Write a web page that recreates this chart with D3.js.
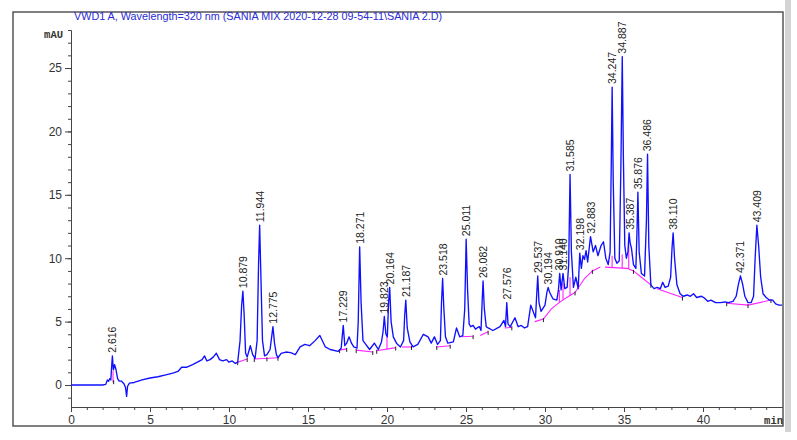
<!DOCTYPE html>
<html><head><meta charset="utf-8">
<script src="https://cdn.jsdelivr.net/npm/d3@7"></script>
<style>
body{margin:0;background:#fff;}
svg{display:block;font-family:"Liberation Sans",Arial,sans-serif;}
</style></head>
<body>
<svg id="c" width="797" height="440"></svg>
<script>
const titleText = "VWD1 A, Wavelength=320 nm (SANIA MIX 2020-12-28 09-54-11\\SANIA 2.D)";
const yUnit = "mAU";
const xUnit = "min";
const xMajorTicks = [0,5,10,15,20,25,30,35,40];
const yMajorTicks = [0,5,10,15,20,25];

// chromatogram trace: time (min) and signal (mAU)
const times = [0,1,2,2.2,2.3,2.38,2.45,2.52,2.58,2.62,2.68,2.76,2.85,2.95,3.05,3.2,3.35,3.45,3.52,3.58,3.7,4,4.5,5,5.5,6,6.5,6.8,7,7.3,7.7,8,8.3,8.45,8.6,8.8,9,9.2,9.4,9.6,9.85,10,10.2,10.4,10.55,10.7,10.8,10.88,10.96,11.05,11.15,11.35,11.5,11.65,11.78,11.87,11.94,12.02,12.12,12.25,12.4,12.6,12.7,12.78,12.88,13,13.1,13.3,13.6,13.9,14.2,14.5,14.8,15.1,15.45,15.75,16.1,16.4,16.9,17.1,17.23,17.33,17.45,17.6,17.75,17.9,18.1,18.18,18.27,18.36,18.48,18.6,18.9,19.2,19.45,19.65,19.75,19.83,19.93,20.02,20.1,20.17,20.26,20.4,20.6,20.85,21.05,21.12,21.19,21.28,21.45,21.65,21.95,22.3,22.6,22.8,23,23.2,23.38,23.45,23.52,23.6,23.7,23.85,24.2,24.4,24.6,24.8,24.92,25.01,25.1,25.2,25.3,25.45,25.6,25.7,25.85,25.95,26.02,26.08,26.16,26.28,26.4,26.7,27.15,27.4,27.5,27.58,27.66,27.8,28.1,28.3,28.5,28.7,28.9,29.1,29.25,29.4,29.47,29.54,29.62,29.75,30,30.12,30.2,30.3,30.5,30.75,30.85,30.93,31.02,31.14,31.25,31.4,31.5,31.585,31.67,31.8,31.95,32.1,32.2,32.3,32.4,32.5,32.6,32.7,32.88,33.05,33.2,33.35,33.55,33.7,33.85,34,34.12,34.2,34.25,34.32,34.42,34.55,34.7,34.8,34.89,34.96,35.05,35.15,35.25,35.32,35.39,35.47,35.6,35.75,35.82,35.88,35.96,36.1,36.3,36.42,36.49,36.57,36.7,36.9,37.1,37.3,37.45,37.6,37.8,37.95,38.04,38.11,38.2,38.35,38.55,38.75,39,39.2,39.4,39.6,39.9,40.1,40.3,40.5,40.8,41.1,41.4,41.6,41.9,42.1,42.25,42.37,42.5,42.65,42.85,43.05,43.2,43.3,43.41,43.52,43.65,43.8,44,44.2,44.4,44.6,44.8,45];
const signal = [0,0,0,0.05,0.4,0.3,0.5,0.4,1.6,2.3,1.2,1.6,1.2,0.5,0.3,0.3,0.1,-0.2,-0.9,-0.1,0.15,0.2,0.4,0.55,0.65,0.8,0.95,1.1,1.4,1.4,1.6,1.8,2,2.3,1.9,2,2.2,2.5,2,1.9,2,1.8,1.9,1.7,1.8,3.5,6.3,7.4,5.5,2.5,2.2,3.1,2.4,2.1,3.5,9.5,12.6,8.5,3.5,2.3,2.4,2.8,3.8,4.6,3.3,2.4,2.15,2.5,2.6,2.55,2.4,3,3.2,3.1,3.5,3.9,3,2.8,2.65,2.9,4.7,3.1,3.3,3.8,3.3,3,2.9,5,10.9,6.5,3.5,3.3,2.8,3.3,2.8,3.4,4.2,5.4,4,3.8,6.5,7.7,5,3.8,3.3,3,3.5,5.5,6.7,4.5,3.4,3,3.2,4,3.8,3.3,3.8,3.2,3.5,6.5,8.4,6,3.8,3.3,3.4,4.5,3.8,3.9,6,11.5,7.5,4.8,4.6,4.7,4.4,4.5,4.6,4.3,6.5,8.2,6,4.6,4.5,4.3,4.6,5.1,4.6,6.5,4.8,4.6,5.3,4.6,4.7,4.5,4.6,6.3,5.8,5.3,7,8.6,6.5,5.8,6.3,7.3,7.7,7.3,6.8,6.7,7.5,8.8,7.5,8.8,7.6,7.7,9.5,16.6,10.5,7.7,8.5,7.6,10.4,9.2,10.2,9.9,10.6,9.7,11.7,10.5,11,10.2,11,11.3,10,9.5,10.5,18,23.5,16,10,9.6,9.8,17,25.9,18,11,10,10.5,12,11.2,10.8,9.5,9.2,12,15.2,10.5,8.8,8.6,13,18.2,11,7.9,7.6,7.7,7.6,8.1,7.7,7.8,8.5,10.8,12,10,7.9,7.2,7,7.1,7,7.2,6.9,7,6.85,6.6,6.7,6.5,6.5,6.55,6.5,6.6,7,8,8.6,8,7,6.5,6.5,7,10,12.6,11,8.5,7.2,6.9,6.7,6.7,6.4,6.3,6.3];

// labelled peaks
const peakTimes = ["2.616","10.879","11.944","12.775","17.229","18.271","19.823","20.164","21.187","23.518","25.011","26.082","27.576","29.537","30.194","30.910","31.140","31.585","32.198","32.883","34.247","34.887","35.387","35.876","36.486","38.110","42.371","43.409"];
const peakHeights = [2.3,7.4,12.6,4.6,4.7,10.9,5.4,7.7,6.7,8.4,11.5,8.2,6.5,8.6,7.7,8.8,8.8,16.6,10.4,11.7,23.5,25.9,12.0,15.2,18.2,12.0,8.6,12.6];

// integration baselines (magenta)
const baselineSegments = [
  [[2.66,0.2],[2.66,1.1]],
  [[10.55,1.8],[11.15,2.05]],
  [[11.6,2.05],[13.1,2.15]],
  [[17.0,2.75],[17.45,2.85]],
  [[18.05,2.75],[19.1,2.6]],
  [[19.35,2.7],[20.55,2.95]],
  [[20.0,2.8],[20.0,3.8]],
  [[20.95,3.0],[21.55,3.0]],
  [[23.15,3.0],[24.0,3.1]],
  [[24.75,3.8],[25.45,3.85]],
  [[25.9,3.9],[26.4,4.2]],
  [[27.45,4.5],[27.9,4.55]],
  [[29.35,5.0],[29.9,5.2],[30.4,6.0],[31.0,6.6],[31.5,7.0],[31.9,7.3]],
  [[30.91,6.55],[30.91,7.5]],
  [[31.14,6.75],[31.14,8.0]],
  [[31.585,7.05],[31.585,8.5]],
  [[31.9,7.3],[32.5,8.4],[33.0,9.0],[33.5,9.3]],
  [[33.8,9.3],[35.2,9.2],[35.6,9.0],[36.1,8.5],[36.7,7.9]],
  [[34.247,9.25],[34.247,10.2]],
  [[34.887,9.2],[34.887,10.3]],
  [[35.3,9.15],[35.3,11.5]],
  [[37.1,7.6],[38.0,7.2],[38.7,6.9]],
  [[41.5,6.45],[42.85,6.3],[44.3,6.7]]
];
const markerPoints = [[2.7,0.3],[10.55,1.8],[11.15,2.05],[11.6,2.05],[12.4,2.1],[13.1,2.15],[17.0,2.75],[17.45,2.85],[18.05,2.75],[19.1,2.6],[19.35,2.7],[20.55,2.95],[21.55,3.0],[23.15,3.0],[24.0,3.1],[25.45,3.85],[26.4,4.2],[27.9,4.55],[29.9,5.2],[31.9,7.3],[33.0,9.0],[35.6,9.0],[36.7,7.9],[38.7,6.9],[41.5,6.45],[42.85,6.3],[44.3,6.7]];

const svg = d3.select("#c");
const x = d3.scaleLinear().domain([0,45]).range([71,782]);
const y = d3.scaleLinear().domain([-1.735,28]).range([407,30]);

// frame
svg.append("rect").attr("x",785).attr("y",0).attr("width",6).attr("height",432).attr("fill","#d4d4d4");
svg.append("rect").attr("x",13).attr("y",12).attr("width",770).attr("height",414)
  .attr("fill","none").attr("stroke","#555").attr("stroke-width",1.5);

// title
svg.append("text").attr("x",74).attr("y",20).attr("font-size",10.8).attr("fill","#2b2bd6").text(titleText);

// axes
const axisColor = "#444";
function styleAxis(g){
  g.selectAll("path,line").attr("stroke",axisColor);
  g.selectAll("text").attr("fill","#333").attr("font-size",12).attr("font-family","Liberation Sans, Arial, sans-serif");
}
svg.append("g").attr("transform","translate(71,0)")
  .call(d3.axisLeft(y).tickValues(d3.range(-1,29)).tickSize(3).tickFormat("").tickSizeOuter(0))
  .call(styleAxis);
svg.append("g").attr("transform","translate(71,0)")
  .call(d3.axisLeft(y).tickValues(yMajorTicks).tickSize(6).tickPadding(3).tickSizeOuter(0))
  .call(styleAxis);
svg.append("g").attr("transform","translate(0,407)")
  .call(d3.axisBottom(x).tickValues(d3.range(0,45)).tickSize(3).tickFormat("").tickSizeOuter(0))
  .call(styleAxis);
svg.append("g").attr("transform","translate(0,407)")
  .call(d3.axisBottom(x).tickValues(xMajorTicks).tickSize(5).tickPadding(3).tickSizeOuter(0))
  .call(styleAxis);

svg.append("text").attr("x",63).attr("y",38).attr("text-anchor","end")
  .attr("font-family","Liberation Mono, DejaVu Sans Mono, monospace").attr("font-weight","bold")
  .attr("font-size",10.5).attr("fill","#333").text(yUnit);
svg.append("text").attr("x",783).attr("y",424).attr("text-anchor","end")
  .attr("font-family","Liberation Mono, DejaVu Sans Mono, monospace").attr("font-weight","bold")
  .attr("font-size",10.5).attr("fill","#333").text(xUnit);

// plot
svg.append("clipPath").attr("id","pc").append("rect").attr("x",71).attr("y",0).attr("width",712).attr("height",407);
const plot = svg.append("g").attr("clip-path","url(#pc)");

const line = d3.line().x(d=>x(d[0])).y(d=>y(d[1]));
baselineSegments.forEach(s=>{
  plot.append("path").attr("d",line(s)).attr("fill","none").attr("stroke","#ff22ff").attr("stroke-width",1.1);
});
plot.selectAll(".mk").data(markerPoints).join("line")
  .attr("x1",d=>x(d[0])).attr("x2",d=>x(d[0]))
  .attr("y1",d=>y(d[1])-1).attr("y2",d=>y(d[1])+3)
  .attr("stroke","#222").attr("stroke-width",1);

const trace = times.map((t,i)=>[t,signal[i]]);
plot.append("path").attr("d",line(trace)).attr("fill","none").attr("stroke","#1010ff")
  .attr("stroke-width",1.35).attr("stroke-linejoin","round");

// peak labels
peakTimes.forEach((lab,i)=>{
  const px = x(+lab), py = y(peakHeights[i]);
  svg.append("text").attr("transform",`translate(${px+4},${py-3}) rotate(-90)`)
    .attr("font-size",10.5).attr("fill","#222").text(lab);
});
</script>
</body></html>
